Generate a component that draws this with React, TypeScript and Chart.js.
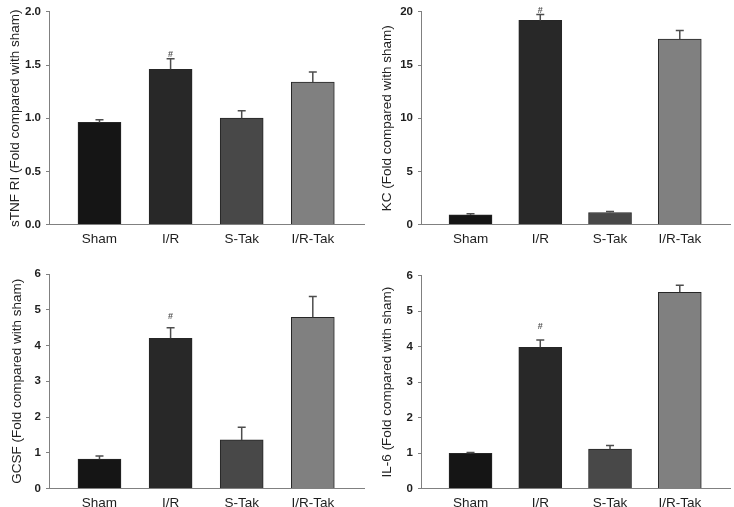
import React, { useEffect, useRef } from "react";
import { Chart, registerables } from "chart.js";

Chart.register(...registerables);

const categories = ["Sham", "I/R", "S-Tak", "I/R-Tak"];
const barColors = ["#151515", "#282828", "#484848", "#808080"];
const sigMarks = ["", "#", "", ""];

const tnfMeans = [0.96, 1.46, 1.0, 1.34];
const tnfErrors = [0.025, 0.1, 0.07, 0.095];
const tnfMarkAt = 1.6;

const kcMeans = [0.9, 19.2, 1.13, 17.45];
const kcErrors = [0.1, 0.55, 0.1, 0.8];
const kcMarkAt = 20.15;

const gcsfMeans = [0.82, 4.2, 1.36, 4.79];
const gcsfErrors = [0.09, 0.3, 0.35, 0.58];
const gcsfMarkAt = 4.8;

const il6Means = [0.99, 3.98, 1.11, 5.53];
const il6Errors = [0.025, 0.21, 0.1, 0.2];
const il6MarkAt = 4.58;

type Panel = {
  title: string;
  means: number[];
  errors: number[];
  markAt: number;
  max: number;
  step: number;
  decimals: number;
  left: number;
  top: number;
  width: number;
  height: number;
  areaLeft: number;
  areaRight: number;
  areaTop: number;
  areaBottom: number;
  titleCenter: number;
};

const FONT = "'Liberation Sans', Arial, Helvetica, sans-serif";

const panels: Panel[] = [
  {
    title: "sTNF RI (Fold compared with sham)",
    means: tnfMeans, errors: tnfErrors, markAt: tnfMarkAt,
    max: 2, step: 0.5, decimals: 1,
    left: 0, top: 0, width: 367, height: 250,
    areaLeft: 49, areaRight: 364, areaTop: 7, areaBottom: 224.5, titleCenter: 15,
  },
  {
    title: "KC (Fold compared with sham)",
    means: kcMeans, errors: kcErrors, markAt: kcMarkAt,
    max: 20, step: 5, decimals: 0,
    left: 367, top: 0, width: 367, height: 250,
    areaLeft: 54, areaRight: 363, areaTop: 9, areaBottom: 224.5, titleCenter: 20,
  },
  {
    title: "GCSF (Fold compared with sham)",
    means: gcsfMeans, errors: gcsfErrors, markAt: gcsfMarkAt,
    max: 6, step: 1, decimals: 0,
    left: 0, top: 250, width: 367, height: 257,
    areaLeft: 49, areaRight: 364, areaTop: 24, areaBottom: 238.5, titleCenter: 17,
  },
  {
    title: "IL-6 (Fold compared with sham)",
    means: il6Means, errors: il6Errors, markAt: il6MarkAt,
    max: 6, step: 1, decimals: 0,
    left: 367, top: 250, width: 367, height: 257,
    areaLeft: 54, areaRight: 363, areaTop: 25.7, areaBottom: 238.5, titleCenter: 20,
  },
];

function PanelChart({ p }: { p: Panel }) {
  const ref = useRef<HTMLCanvasElement | null>(null);

  useEffect(() => {
    if (!ref.current) return;
    const titleSize = 13.5;
    const titleLine = titleSize * 1.2;

    const errorPlugin = {
      id: "errorBars",
      afterDatasetsDraw(chart: any) {
        const ctx = chart.ctx;
        const meta = chart.getDatasetMeta(0);
        const ys = chart.scales.y;
        const xs = chart.scales.x;
        ctx.save();
        meta.data.forEach((bar: any, i: number) => {
          const x = bar.x;
          const yTop = ys.getPixelForValue(p.means[i]);
          const yErr = ys.getPixelForValue(p.means[i] + p.errors[i]);
          ctx.strokeStyle = "#4d4d4d";
          ctx.lineWidth = 1.5;
          ctx.beginPath();
          ctx.moveTo(x, yTop);
          ctx.lineTo(x, yErr);
          ctx.moveTo(x - 4, yErr);
          ctx.lineTo(x + 4, yErr);
          ctx.stroke();
          if (sigMarks[i]) {
            ctx.fillStyle = "#555";
            ctx.font = `bold 9px ${FONT}`;
            ctx.textAlign = "center";
            ctx.textBaseline = "middle";
            ctx.fillText(sigMarks[i], xs.getPixelForValue(i), ys.getPixelForValue(p.markAt));
          }
        });
        ctx.restore();
      },
    };

    const chart = new Chart(ref.current, {
      type: "bar",
      data: {
        datasets: [
          {
            data: p.means.map((v, i) => ({ x: i, y: v })),
            backgroundColor: barColors,
            borderColor: "#262626",
            borderWidth: 1,
            barThickness: 43,
          } as any,
        ],
      },
      options: {
        animation: false,
        responsive: false,
        devicePixelRatio: 1,
        layout: {
          padding: { left: 0, top: p.areaTop, right: p.width - p.areaRight, bottom: 0 },
        },
        plugins: {
          legend: { display: false },
          tooltip: { enabled: false },
        },
        scales: {
          x: {
            type: "linear",
            offset: false,
            min: -0.71,
            max: 3.72,
            afterFit: (s: any) => {
              s.height = p.height - p.areaBottom;
            },
            afterBuildTicks: (s: any) => {
              s.ticks = categories.map((_, i) => ({ value: i }));
            },
            ticks: {
              autoSkip: false,
              maxRotation: 0,
              padding: -1,
              color: "#1e1e1e",
              font: { family: FONT, size: 13.5 },
              callback: (v: any) => categories[v as number] ?? "",
            },
            grid: { display: false, offset: false },
            border: { display: true, color: "#808080", width: 1 },
          },
          y: {
            min: 0,
            max: p.max,
            afterFit: (s: any) => {
              s.width = p.areaLeft;
            },
            ticks: {
              stepSize: p.step,
              padding: 5,
              color: "#1e1e1e",
              font: { family: FONT, size: 11.5, weight: "bold" },
              callback: (v: any) => Number(v).toFixed(p.decimals),
            },
            grid: {
              display: true,
              drawOnChartArea: false,
              drawTicks: true,
              tickLength: 3,
              color: "#808080",
            },
            border: { display: true, color: "#808080", width: 1 },
            title: {
              display: true,
              text: p.title,
              color: "#222",
              font: { family: FONT, size: titleSize },
              padding: { top: p.titleCenter - titleLine / 2, bottom: 0 },
            },
          },
        },
      } as any,
      plugins: [errorPlugin],
    });
    return () => chart.destroy();
  }, [p]);

  return (
    <canvas
      ref={ref}
      width={p.width}
      height={p.height}
      style={{ position: "absolute", left: p.left, top: p.top, width: p.width, height: p.height }}
    />
  );
}

export default function App() {
  return (
    <div
      style={{
        position: "absolute",
        left: 0,
        top: 0,
        width: 734,
        height: 507,
        background: "#ffffff",
        overflow: "hidden",
      }}
    >
      {panels.map((p, i) => (
        <PanelChart key={i} p={p} />
      ))}
    </div>
  );
}
